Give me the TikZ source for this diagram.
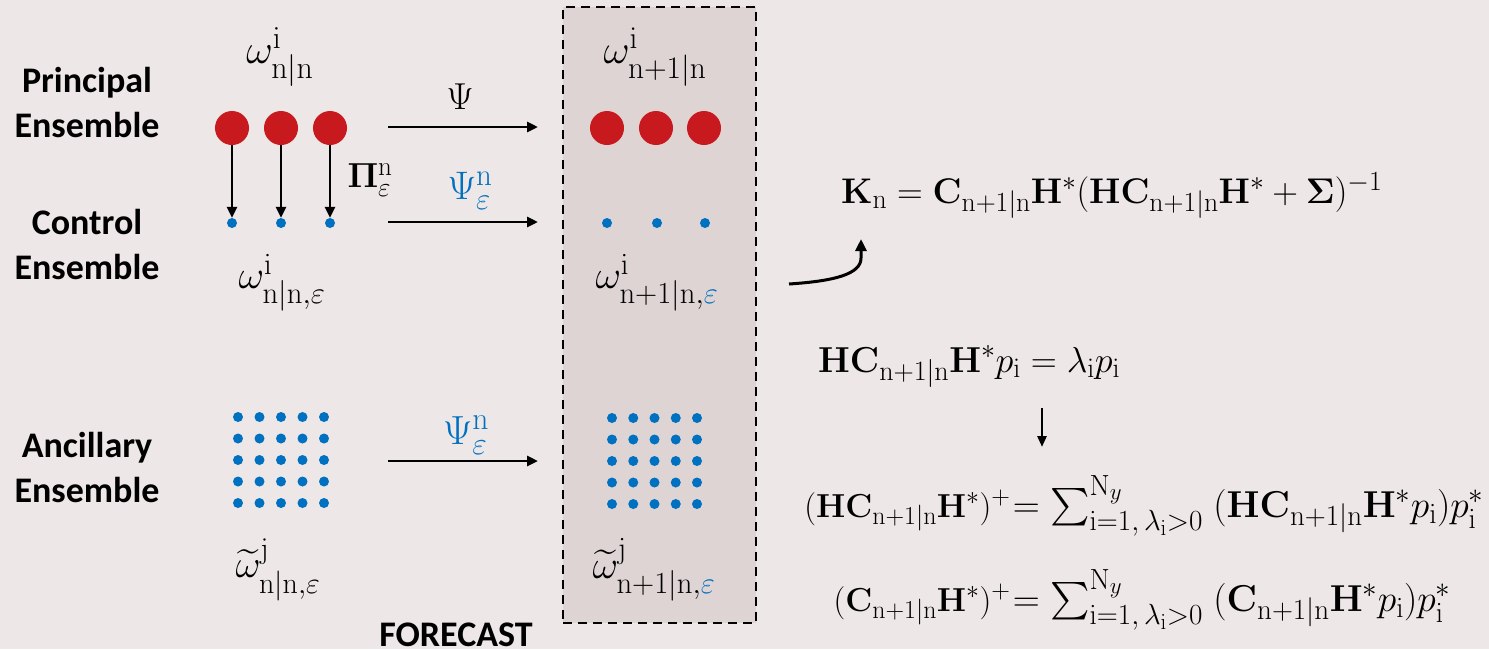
\RequirePackage{fix-cm}
\documentclass[tikz,border=0pt]{standalone}
\usepackage[no-math]{fontspec}
\usepackage{amsmath}
\usepackage{graphicx}
\usetikzlibrary{arrows.meta}
\newfontfamily\calib{Carlito}
\DeclareFontFamily{OMX}{cmex}{}
\DeclareFontShape{OMX}{cmex}{m}{n}{<-> cmex10}{}
\DeclareMathSizes{36}{36}{28}{22}
\definecolor{bgc}{RGB}{237,231,231}
\definecolor{boxc}{RGB}{222,212,212}
\definecolor{redc}{RGB}{200,25,30}
\definecolor{bluec}{RGB}{0,112,192}
\newcommand{\vB}[1]{\mathbf{#1}}
\newcommand{\vR}[1]{\mathrm{#1}}
\newcommand{\fitw}[2]{\resizebox{#1pt}{!}{$#2$}}
\newcommand{\sumLa}{(\vB{H}\vB{C}_{\vR{n+1|n}}\vB{H}^{*})^{+}}
\newcommand{\sumRa}{=\textstyle\sum_{\vR{i}=1,\,\lambda_{\vR{i}}>0}^{\vR{N}_{y}}\;(\vB{H}\vB{C}_{\vR{n+1|n}}\vB{H}^{*}p_{\vR{i}})p_{\vR{i}}^{*}}
\newcommand{\sumLb}{(\vB{C}_{\vR{n+1|n}}\vB{H}^{*})^{+}}
\newcommand{\sumRb}{=\textstyle\sum_{\vR{i}=1,\,\lambda_{\vR{i}}>0}^{\vR{N}_{y}}\;(\vB{C}_{\vR{n+1|n}}\vB{H}^{*}p_{\vR{i}})p_{\vR{i}}^{*}}
\newsavebox\mysumbox
\newsavebox\myleftbox
\tikzset{
 ens/.style={font=\calib\bfseries\fontsize{36}{45}\selectfont, align=center, inner sep=0pt},
 mth/.style={font=\fontsize{36}{42}\selectfont, inner sep=0pt},
 redball/.style={circle, fill=redc, minimum size=34pt, inner sep=0pt},
 bdot/.style={circle, fill=bluec, minimum size=10pt, inner sep=0pt},
 conn/.style={line width=2.8pt, -{Triangle[length=11pt,width=10pt]}},
 fcbox/.style={draw=black, dash pattern=on 9pt off 6pt, line width=2.4pt, fill=boxc, minimum width=193pt, minimum height=616pt, inner sep=0pt}
}
\begin{document}
\sbox\mysumbox{\fontsize{36}{42}\selectfont$\sumRa$}%
\sbox\myleftbox{\fontsize{36}{42}\selectfont$\sumLa$}%
\pgfmathsetmacro\sfac{471/\the\wd\mysumbox}%
\pgfmathsetmacro\lfac{206/\the\wd\myleftbox}%
\begin{tikzpicture}[x=1pt,y=-1pt]
\useasboundingbox (0,0) rectangle (1489,649);
\fill[bgc] (0,0) rectangle (1489,649);
% forecast box
\node[fcbox] (fbox) at (659.5,315) {};
% ensemble labels
\node[ens] (pe) at (87,102) {Principal\\Ensemble};
\node[ens] (ce) at (87,244) {Control\\Ensemble};
\node[ens] (ae) at (87,467) {Ancillary\\Ensemble};
\node[ens] (fc) at (456,635) {FORECAST};
% principal
\node[redball] (p1) at (232,128) {};
\node[redball] (p2) at (281,128) {};
\node[redball] (p3) at (330,128) {};
\node[redball] (q1) at (607,128) {};
\node[redball] (q2) at (656,128) {};
\node[redball] (q3) at (704,128) {};
% control
\node[bdot] (c1) at (232,223) {};
\node[bdot] (c2) at (281,223) {};
\node[bdot] (c3) at (330,223) {};
\node[bdot] (d1) at (607,223) {};
\node[bdot] (d2) at (657,223) {};
\node[bdot] (d3) at (705,223) {};
\draw[conn] (p1) -- (c1);
\draw[conn] (p2) -- (c2);
\draw[conn] (p3) -- (c3);
% ancillary grids
\foreach \i in {0,...,4}{\foreach \j in {0,...,4}{
  \node[bdot] (gl\i\j) at ({238+21.5*\i},{417+21.5*\j}) {};
  \node[bdot] (gr\i\j) at ({612+21.25*\i},{418+21.5*\j}) {};
}}
% labels
\node[mth] (w1) at (280,57) {\fitw{67}{\omega^{\vR{i}}_{\vR{n|n}}}};
\node[mth] (w2) at (655,57) {\fitw{103}{\omega^{\vR{i}}_{\vR{n+1|n}}}};
\node[mth] (w3) at (282,283) {\fitw{87}{\omega^{\vR{i}}_{\vR{n|n},\varepsilon}}};
\node[mth] (w4) at (657,283) {\fitw{123}{\omega^{\vR{i}}_{\vR{n+1|n},\textcolor{bluec}{\varepsilon}}}};
\node[mth] (w5) at (278,570) {\fitw{85}{\widetilde{\omega}^{\vR{j}}_{\vR{n|n},\varepsilon}}};
\node[mth] (w6) at (654,570) {\fitw{123}{\widetilde{\omega}^{\vR{j}}_{\vR{n+1|n},\textcolor{bluec}{\varepsilon}}}};
\node[mth] (pi) at (370,180) {\fitw{45}{\vB{\Pi}^{\vR{n}}_{\varepsilon}}};
\node[mth] (psi1) at (460,97) {\fitw{27}{\Psi}};
\node[mth, text=bluec] (psi2) at (470,191) {\fitw{45}{\Psi^{\vR{n}}_{\varepsilon}}};
\node[mth, text=bluec] (psi3) at (466,435) {\fitw{46}{\Psi^{\vR{n}}_{\varepsilon}}};
% horizontal arrows
\coordinate (a1s) at (388,127); \coordinate (a1e) at (538,127);
\coordinate (a2s) at (388,222); \coordinate (a2e) at (538,222);
\coordinate (a3s) at (388,461); \coordinate (a3e) at (538,461);
\draw[conn] (a1s) -- (a1e);
\draw[conn] (a2s) -- (a2e);
\draw[conn] (a3s) -- (a3e);
% equations
\node[mth, anchor=base west] (keq) at (841,203) {\fitw{541}{\vB{K}_{\vR{n}} = \vB{C}_{\vR{n+1|n}}\vB{H}^{*}(\vB{H}\vB{C}_{\vR{n+1|n}}\vB{H}^{*}+\vB{\Sigma})^{-1}}};
\node[mth, anchor=base west] (eig) at (818,372) {\fitw{302}{\vB{H}\vB{C}_{\vR{n+1|n}}\vB{H}^{*}p_{\vR{i}} = \lambda_{\vR{i}}p_{\vR{i}}}};
\node[mth, anchor=base east] (s1r) at (1484,517) {\scalebox{\sfac}{$\sumRa$}};
\node[mth, anchor=base east] (s1l) at ([xshift=-2pt]s1r.base west) {\scalebox{\lfac}{$\sumLa$}};
\node[mth, anchor=base west] (s2r) at (s1r.base west |- 0,611) {\scalebox{\sfac}{$\sumRb$}};
\node[mth, anchor=base east] (s2l) at ([xshift=-2pt]s2r.base west) {\scalebox{\lfac}{$\sumLb$}};
% curved arrow and down arrow
\coordinate (cs) at (789,284);
\coordinate (ct) at (861,239);
\draw[line width=3pt, -{Triangle[length=12pt,width=11pt]}] (cs) .. controls (835,281) and (861,274) .. (861,258) -- (ct);
\coordinate (ds) at (1042,408);
\coordinate (dt) at (1042,447);
\draw[line width=2.6pt, -{Triangle[length=11pt,width=9pt]}] (ds) -- (dt);
\end{tikzpicture}
\end{document}
